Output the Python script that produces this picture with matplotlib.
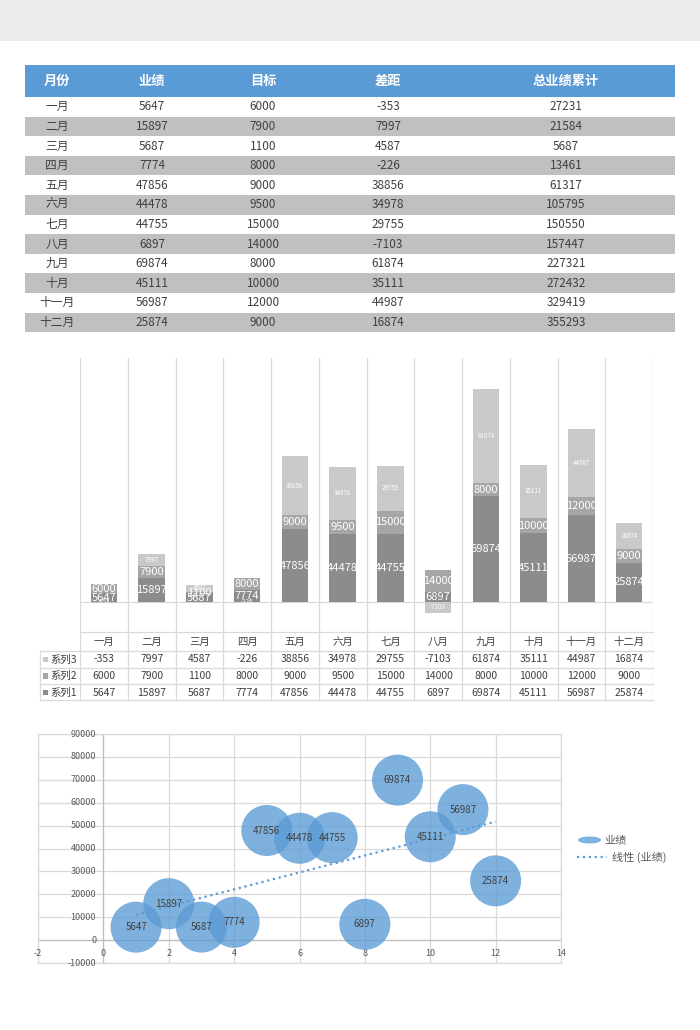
import numpy as np
import matplotlib
matplotlib.use('Agg')
import matplotlib.pyplot as plt
from matplotlib.patches import Rectangle, Ellipse

plt.rcParams['font.family'] = ['Noto Sans CJK SC', 'DejaVu Sans']

# ---------------- data ----------------
months = ['一月', '二月', '三月', '四月', '五月', '六月',
          '七月', '八月', '九月', '十月', '十一月', '十二月']
sales = [5647, 15897, 5687, 7774, 47856, 44478, 44755, 6897, 69874, 45111, 56987, 25874]
targets = [6000, 7900, 1100, 8000, 9000, 9500, 15000, 14000, 8000, 10000, 12000, 9000]
gaps = [-353, 7997, 4587, -226, 38856, 34978, 29755, -7103, 61874, 35111, 44987, 16874]
cumulative = [27231, 21584, 5687, 13461, 61317, 105795, 150550, 157447,
              227321, 272432, 329419, 355293]
headers = ['月份', '业绩', '目标', '差距', '总业绩累计']
series_names = ['系列1', '系列2', '系列3']
scatter_label = '业绩'
trend_label = '线性 (业绩)'

# ---------------- styles ----------------
W, H = 700, 1030
BLUE = '#5b9bd5'
TXT = '#404040'
GRID = '#d9d9d9'
C1, C2, C3 = '#8c8c8c', '#a6a6a6', '#c9c9c9'

fig = plt.figure(figsize=(7, 10.3), dpi=100)
ov = fig.add_axes([0, 0, 1, 1])
ov.set_xlim(0, W)
ov.set_ylim(H, 0)
ov.axis('off')

# top band
ov.add_patch(Rectangle((0, 0), W, 41, color='#ebebeb', lw=0))

# ---------------- top table ----------------
col_x = [57, 152, 263, 388, 566]
ov.add_patch(Rectangle((25, 65), 650, 32, color=BLUE, lw=0))
for cx, h in zip(col_x, headers):
    ov.text(cx, 81, h, ha='center', va='center', color='white',
            fontsize=9.5, fontweight='bold')
row_h = 19.6
for i in range(len(months)):
    y0 = 97 + i * row_h
    if i % 2 == 1:
        ov.add_patch(Rectangle((25, y0), 650, row_h, color='#c0c0c0', lw=0))
    vals = [months[i], sales[i], targets[i], gaps[i], cumulative[i]]
    for cx, v in zip(col_x, vals):
        ov.text(cx, y0 + row_h / 2, str(v), ha='center', va='center',
                color=TXT, fontsize=8.5)

# ---------------- stacked bar chart ----------------
top_px, bot_px, zero_px = 358, 700, 602
k = 180000 / (632 - 358)
ymin = -(bot_px - zero_px) * k
ymax = (zero_px - top_px) * k
axb = fig.add_axes([80 / W, 1 - bot_px / H, (653 - 80) / W, (bot_px - top_px) / H])
axb.set_xlim(-0.5, 11.5)
axb.set_ylim(ymin, ymax)
axb.axis('off')
axb.patch.set_alpha(0)

x = np.arange(len(months))
s1 = np.array(sales, float)
s2 = np.array(targets, float)
s3 = np.array(gaps, float)
b3 = np.where(s3 >= 0, s1 + s2, 0)
bw = 0.55
axb.bar(x, s1, bw, color=C1, zorder=2)
axb.bar(x, s2, bw, bottom=s1, color=C2, zorder=2)
axb.bar(x, s3, bw, bottom=b3, color=C3, zorder=2)
for i in range(len(x)):
    axb.text(x[i], s1[i] / 2, f'{int(s1[i])}', ha='center', va='center',
             color='white', fontsize=8, zorder=3)
    axb.text(x[i], s1[i] + s2[i] / 2, f'{int(s2[i])}', ha='center', va='center',
             color='white', fontsize=8, zorder=3)
    axb.text(x[i], b3[i] + s3[i] / 2, f'{int(s3[i])}', ha='center', va='center',
             color='white', fontsize=4.5, zorder=3)

xt = axb.get_xaxis_transform()
for b in np.arange(-0.5, 12, 1):
    axb.plot([b, b], [0, 1], transform=xt, color=GRID, lw=0.9, zorder=1)
axb.axhline(0, color=GRID, lw=0.9, zorder=1)

def fr(py):
    return (bot_px - py) / (bot_px - top_px)

# data table under chart
ov.plot([80, 653], [632, 632], color=GRID, lw=0.9)
for py in [651, 667.5, 684, 700]:
    ov.plot([40, 653], [py, py], color=GRID, lw=0.9)
ov.plot([40, 40], [651, 700], color=GRID, lw=0.9)

for i in range(len(x)):
    axb.text(x[i], fr(641.5), months[i], transform=xt, ha='center', va='center',
             color=TXT, fontsize=7.5)
rows = [(series_names[2], gaps, C3, 659.5),
        (series_names[1], targets, C2, 676),
        (series_names[0], sales, C1, 692.5)]
for name, vals, col, py in rows:
    ov.add_patch(Rectangle((42.5, py - 2.8), 5.5, 5.5, color=col, lw=0))
    ov.text(50, py, name, ha='left', va='center', color=TXT, fontsize=7.5)
    for i in range(len(x)):
        axb.text(x[i], fr(py), str(vals[i]), transform=xt, ha='center',
                 va='center', color=TXT, fontsize=7.5)

# ---------------- bubble chart ----------------
axs = fig.add_axes([38 / W, 1 - 963 / H, (561 - 38) / W, (963 - 734) / H])
axs.set_xlim(-2, 14)
axs.set_ylim(-10000, 90000)
axs.set_xticks(np.arange(-2, 15, 2))
axs.set_yticks(np.arange(-10000, 90001, 10000))
axs.grid(True, color=GRID, lw=0.9)
axs.tick_params(length=0, labelleft=False, labelbottom=False)
for sp in axs.spines.values():
    sp.set_color(GRID)
    sp.set_linewidth(0.9)
axs.axvline(0, color='#bfbfbf', lw=0.9)
axs.axhline(0, color='#bfbfbf', lw=0.9)
for yv in np.arange(-10000, 90001, 10000):
    axs.text(-0.22, yv, str(yv), ha='right', va='center', color='#595959', fontsize=6.5)
for xv in np.arange(-2, 15, 2):
    axs.text(xv, -6000, str(xv), ha='center', va='center', color='#595959', fontsize=6.5)

xs = np.arange(1, len(sales) + 1)
axs.scatter(xs, sales, s=1350, color=BLUE, alpha=0.78, edgecolors='none', zorder=3)
for xi, v in zip(xs, sales):
    axs.text(xi, v, str(v), ha='center', va='center', color=TXT, fontsize=7, zorder=5)
coef = np.polyfit(xs, sales, 1)
xl = np.array([xs[0], xs[-1]])
axs.plot(xl, np.polyval(coef, xl), ls=':', color=BLUE, lw=1.6, zorder=4)

# legend
ov.add_patch(Ellipse((589.5, 840), 23, 7, color=BLUE, alpha=0.78, lw=0))
ov.text(604, 840, scatter_label, ha='left', va='center', color='#595959', fontsize=8)
ov.plot([577, 607], [857, 857], ls=':', color=BLUE, lw=1.6)
ov.text(612, 857, trend_label, ha='left', va='center', color='#595959', fontsize=8)

fig.savefig('out.png', dpi=100)
